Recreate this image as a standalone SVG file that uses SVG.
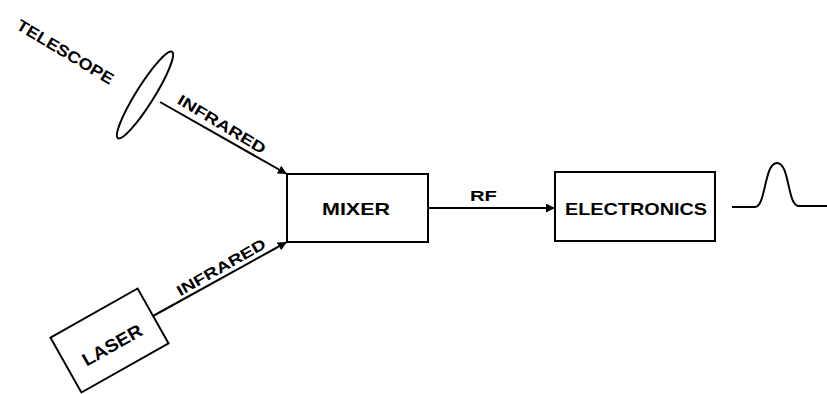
<svg xmlns="http://www.w3.org/2000/svg" width="827" height="394" viewBox="0 0 827 394">
<style>
.box{fill:#fff;stroke:#000;stroke-width:2}
.ln{fill:none;stroke:#000;stroke-width:2}
.t{font-family:"Liberation Sans",Arial,sans-serif;font-weight:bold;fill:#000;text-anchor:middle}
</style>
<defs>
<marker id="ah" viewBox="0 0 10 10" refX="9" refY="5" markerWidth="4.5" markerHeight="4.5" orient="auto" markerUnits="strokeWidth">
<path d="M0,0 L10,5 L0,10 Z" fill="#000"/>
</marker>
</defs>
<rect width="827" height="394" fill="#fff"/>
<g id="telescope">
<ellipse cx="145" cy="95" rx="9" ry="51" transform="rotate(32 145 95)" class="box"/>
<text class="t" font-size="16" transform="translate(65.5,51.5) rotate(31)" y="6" textLength="110" lengthAdjust="spacingAndGlyphs">TELESCOPE</text>
</g>
<g id="laser">
<rect x="-50" y="-31.5" width="100" height="63" class="box" transform="translate(109.5,340.5) rotate(-29.4)"/>
<text class="t" font-size="18" transform="translate(112,345) rotate(-29.4)" y="6.5" textLength="66" lengthAdjust="spacingAndGlyphs">LASER</text>
</g>
<g id="mixer">
<rect x="287" y="174" width="141" height="68" class="box"/>
<text class="t" font-size="17" x="356" y="215" textLength="68" lengthAdjust="spacingAndGlyphs">MIXER</text>
</g>
<g id="electronics">
<rect x="555" y="172" width="160" height="69" class="box"/>
<text class="t" font-size="17" x="636" y="215" textLength="142" lengthAdjust="spacingAndGlyphs">ELECTRONICS</text>
</g>
<g id="connectors">
<line x1="160" y1="102" x2="286" y2="173.5" class="ln" marker-end="url(#ah)"/>
<line x1="153" y1="316" x2="286" y2="242.5" class="ln" marker-end="url(#ah)"/>
<line x1="428" y1="208" x2="554" y2="208" class="ln" marker-end="url(#ah)"/>
<text class="t" font-size="15" transform="translate(222,124) rotate(31)" y="5.5" textLength="100" lengthAdjust="spacingAndGlyphs">INFRARED</text>
<text class="t" font-size="15" transform="translate(221,267) rotate(-29.5)" y="5.5" textLength="100" lengthAdjust="spacingAndGlyphs">INFRARED</text>
<text class="t" font-size="15" x="483.5" y="201" textLength="27" lengthAdjust="spacingAndGlyphs">RF</text>
</g>
<g id="signal">
<path d="M732,207 L755,207 C766,207 764,163 777,163 C790,163 787,206 799,206 L827,206" class="ln"/>
</g>
</svg>
